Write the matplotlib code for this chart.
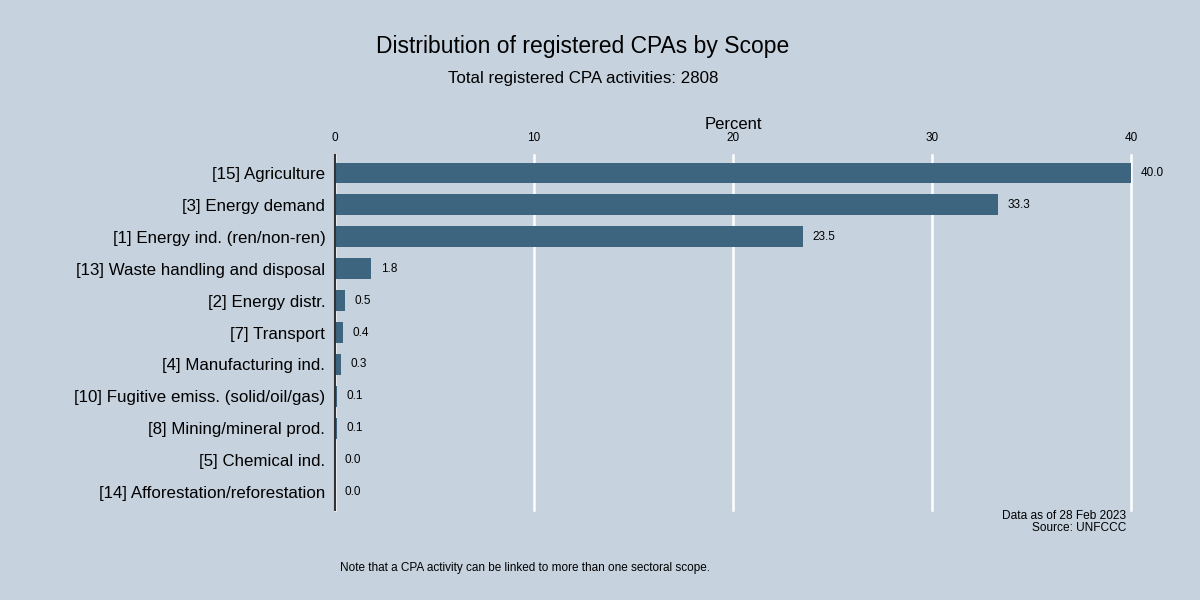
import matplotlib
matplotlib.use("Agg")
import matplotlib.pyplot as plt

# === DATA ===
scopes = [
    "[15] Agriculture",
    "[3] Energy demand",
    "[1] Energy ind. (ren/non-ren)",
    "[13] Waste handling and disposal",
    "[2] Energy distr.",
    "[7] Transport",
    "[4] Manufacturing ind.",
    "[10] Fugitive emiss. (solid/oil/gas)",
    "[8] Mining/mineral prod.",
    "[5] Chemical ind.",
    "[14] Afforestation/reforestation",
]
percent = [40.0, 33.3, 23.5, 1.8, 0.5, 0.4, 0.3, 0.1, 0.1, 0.0, 0.0]
xticks = [0, 10, 20, 30, 40]

BG = "#c6d2de"
BAR = "#3d6580"

plt.rcParams["font.family"] = ["Liberation Sans", "DejaVu Sans"]

fig = plt.figure(figsize=(12, 6), dpi=100, facecolor=BG)
ax = fig.add_axes([335 / 1200, 90 / 600, 796 / 1200, 355 / 600])
ax.set_facecolor(BG)

pos = list(range(len(scopes)))
ax.barh(pos, percent, height=0.63, color=BAR, zorder=3)
for p, v in zip(pos, percent):
    ax.text(v + 0.5, p, f"{v:.1f}", va="center", ha="left", fontsize=8.5,
            color="black", clip_on=False)

ax.set_xlim(0, 40)
ax.set_ylim(len(scopes) - 0.45, -0.55)
ax.set_yticks(pos)
ax.set_yticklabels(scopes, fontsize=12.2)
ax.set_xticks(xticks)
ax.xaxis.tick_top()
ax.xaxis.set_label_position("top")
ax.set_xlabel("Percent", fontsize=12, labelpad=2)
ax.tick_params(axis="x", length=0, labelsize=8.5, pad=8)
ax.tick_params(axis="y", length=0, pad=7)
ax.grid(axis="x", color="white", linewidth=1.8, zorder=1)
for gl in ax.get_xgridlines():
    gl.set_clip_on(False)

for s in ["top", "right", "bottom"]:
    ax.spines[s].set_visible(False)
ax.spines["left"].set_color("#333333")
ax.spines["left"].set_linewidth(1.5)
ax.spines["left"].set_zorder(4)

fig.text(583 / 1200, 1 - 46 / 600, "Distribution of registered CPAs by Scope",
         ha="center", va="center", fontsize=16.5)
fig.text(583 / 1200, 1 - 78 / 600, "Total registered CPA activities: 2808",
         ha="center", va="center", fontsize=12.2)
fig.text(1126 / 1200, 1 - 522 / 600, "Data as of 28 Feb 2023\nSource: UNFCCC",
         ha="right", va="center", fontsize=8.6, linespacing=1.1)
fig.text(340 / 1200, 1 - 568 / 600,
         "Note that a CPA activity can be linked to more than one sectoral scope.",
         ha="left", va="center", fontsize=8.5)

fig.savefig("out.png", dpi=100, facecolor=BG)
